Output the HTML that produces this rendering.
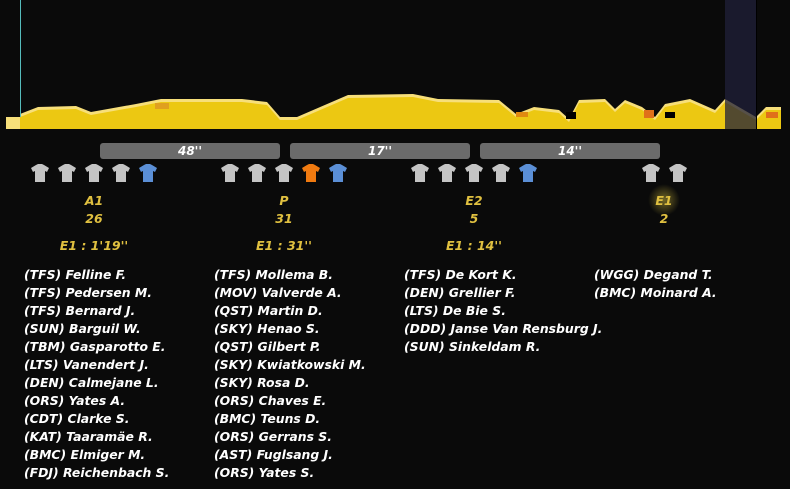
<!DOCTYPE html>
<html><head><meta charset="utf-8"><style>
html,body{margin:0;padding:0;background:#0a0a0a;width:790px;height:489px;overflow:hidden;position:relative;font-family:"DejaVu Sans","Liberation Sans",sans-serif;}
.bar{position:absolute;top:143px;height:16px;background:#6b6b6b;border-radius:3px;color:#fff;font-weight:bold;font-style:italic;font-size:12px;text-align:center;line-height:16px;}
.lab{position:absolute;width:120px;text-align:center;color:#e0c040;font-weight:bold;font-style:italic;font-size:12.5px;}
.col{position:absolute;top:266px;color:#fff;font-weight:bold;font-style:italic;font-size:12.4px;line-height:18px;white-space:nowrap;}
</style></head><body>
<svg width="790" height="140" style="position:absolute;left:0;top:0">
<rect x="6" y="117" width="14" height="12" fill="#f7df7a"/>
<polygon fill="#f7df7a" points="20,129 20,114 38,107 76,106 91,112 136,104 161,99 242,99 267,102 280,117 297,117 348,95 413,94 438,99 499,100 516,114 534,107 559,110 569,119 579,100 605,99 615,109 625,100 642,107 655,117 665,104 690,99 715,110 725,99 756,117 766,107 781,107 781,129"/>
<polygon fill="#ecc812" points="20,129 20,117 38,110 76,109 91,115 136,107 161,102 242,102 267,105 280,120 297,120 348,98 413,97 438,102 499,103 516,117 534,110 559,113 569,122 579,103 605,102 615,112 625,103 642,110 655,120 665,107 690,102 715,113 725,102 756,120 766,110 781,110 781,129"/>
<rect x="516" y="112" width="12" height="5" fill="#e08a10"/>
<rect x="566" y="112" width="10" height="7" fill="#000"/>
<rect x="644" y="110" width="10" height="8" fill="#e0701a"/>
<rect x="665" y="112" width="10" height="6" fill="#000"/>
<rect x="766" y="112" width="12" height="6" fill="#e0701a"/>
<rect x="155" y="103" width="14" height="6" fill="#e0a020"/>
<rect x="725" y="0" width="32" height="129" fill="#20203a" opacity="0.75"/>
<line x1="756.5" y1="0" x2="756.5" y2="129" stroke="#000" stroke-width="1"/>
<line x1="20.5" y1="0" x2="20.5" y2="117" stroke="#5bb" stroke-width="1"/>
</svg>
<div class="bar" style="left:100px;width:180px">48''</div>
<div class="bar" style="left:290px;width:180px">17''</div>
<div class="bar" style="left:480px;width:180px">14''</div>
<svg width="790" height="30" style="position:absolute;left:0;top:160px">
<defs><path id="jy" d="M5,3 L7,2 L11,2 L13,3 L18,6 L16,10 L14,9 L14,20 L4,20 L4,9 L2,10 L0,6 Z"/></defs>
<g fill="#c4c4c4">
<use href="#jy" x="31" y="2"/><use href="#jy" x="58" y="2"/><use href="#jy" x="85" y="2"/><use href="#jy" x="112" y="2"/>
<use href="#jy" x="221" y="2"/><use href="#jy" x="248" y="2"/><use href="#jy" x="275" y="2"/>
<use href="#jy" x="411" y="2"/><use href="#jy" x="438" y="2"/><use href="#jy" x="465" y="2"/><use href="#jy" x="492" y="2"/>
<use href="#jy" x="642" y="2"/><use href="#jy" x="669" y="2"/>
</g>
<g fill="#5b8fd6"><use href="#jy" x="139" y="2"/><use href="#jy" x="329" y="2"/><use href="#jy" x="519" y="2"/></g>
<use href="#jy" x="302" y="2" fill="#f07a10"/>
</svg>
<div style="position:absolute;left:648px;top:184px;width:32px;height:32px;border-radius:50%;background:radial-gradient(circle,rgba(200,180,60,0.55),rgba(200,180,60,0) 70%)"></div>
<div class="lab" style="left:34px;top:193px">A1</div><div class="lab" style="left:34px;top:211px">26</div><div class="lab" style="left:34px;top:238px">E1 : 1'19''</div>
<div class="lab" style="left:224px;top:193px">P</div><div class="lab" style="left:224px;top:211px">31</div><div class="lab" style="left:224px;top:238px">E1 : 31''</div>
<div class="lab" style="left:414px;top:193px">E2</div><div class="lab" style="left:414px;top:211px">5</div><div class="lab" style="left:414px;top:238px">E1 : 14''</div>
<div class="lab" style="left:604px;top:193px">E1</div><div class="lab" style="left:604px;top:211px">2</div>
<div class="col" style="left:24px">(TFS) Felline F.<br>(TFS) Pedersen M.<br>(TFS) Bernard J.<br>(SUN) Barguil W.<br>(TBM) Gasparotto E.<br>(LTS) Vanendert J.<br>(DEN) Calmejane L.<br>(ORS) Yates A.<br>(CDT) Clarke S.<br>(KAT) Taaramäe R.<br>(BMC) Elmiger M.<br>(FDJ) Reichenbach S.</div>
<div class="col" style="left:214px">(TFS) Mollema B.<br>(MOV) Valverde A.<br>(QST) Martin D.<br>(SKY) Henao S.<br>(QST) Gilbert P.<br>(SKY) Kwiatkowski M.<br>(SKY) Rosa D.<br>(ORS) Chaves E.<br>(BMC) Teuns D.<br>(ORS) Gerrans S.<br>(AST) Fuglsang J.<br>(ORS) Yates S.</div>
<div class="col" style="left:404px">(TFS) De Kort K.<br>(DEN) Grellier F.<br>(LTS) De Bie S.<br>(DDD) Janse Van Rensburg J.<br>(SUN) Sinkeldam R.</div>
<div class="col" style="left:594px">(WGG) Degand T.<br>(BMC) Moinard A.</div>
</body></html>
